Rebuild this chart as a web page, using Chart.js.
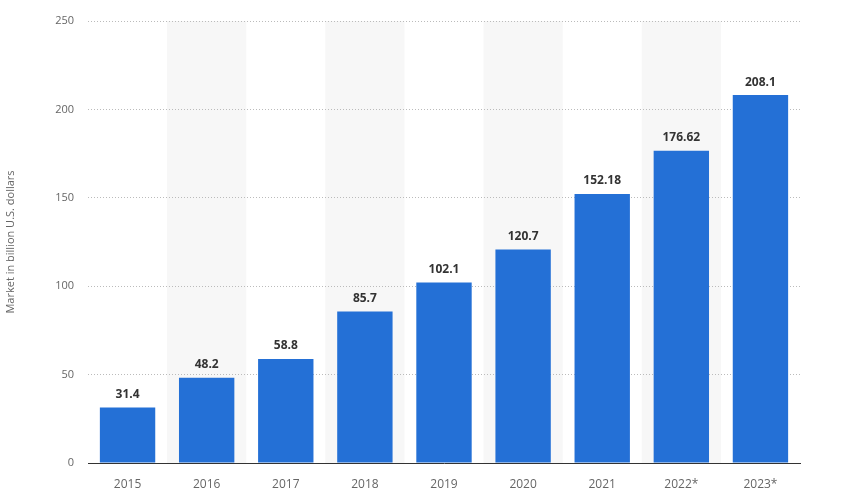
<!DOCTYPE html>
<html><head><meta charset="utf-8">
<script src="https://cdn.jsdelivr.net/npm/chart.js@4"></script>
<style>body{margin:0;background:#fff}#w{width:850px;height:502px}</style>
</head><body><div id="w"><canvas id="c"></canvas></div>
<script>
const categories = ["2015","2016","2017","2018","2019","2020","2021","2022*","2023*"];
const values = [31.4,48.2,58.8,85.7,102.1,120.7,152.18,176.62,208.1];
const valueLabels = ["31.4","48.2","58.8","85.7","102.1","120.7","152.18","176.62","208.1"];

const bands = {
  id:'bands',
  beforeDraw(chart){
    const {ctx, chartArea:a, scales:{x}} = chart;
    ctx.save(); ctx.fillStyle='#f7f7f7';
    categories.forEach((c,i)=>{
      if(i%2===1){
        const w = x.getPixelForValue(1)-x.getPixelForValue(0);
        const cx = x.getPixelForValue(i);
        ctx.fillRect(cx-w/2, a.top, w, a.bottom-a.top);
      }
    });
    ctx.restore();
  }
};
const labels = {
  id:'labels',
  afterDatasetsDraw(chart){
    const ctx=chart.ctx; const meta=chart.getDatasetMeta(0);
    ctx.save(); ctx.font='bold 12px "Open Sans", sans-serif'; ctx.fillStyle='#333';
    ctx.textAlign='center'; ctx.textBaseline='bottom';
    meta.data.forEach((b,i)=>ctx.fillText(valueLabels[i], b.x, b.y-7));
    ctx.restore();
  }
};
new Chart(document.getElementById('c'),{
  type:'bar',
  data:{labels:categories,datasets:[{data:values,backgroundColor:'#2470d6',barPercentage:0.7,categoryPercentage:1}]},
  options:{
    responsive:true,maintainAspectRatio:false,animation:false,
    layout:{padding:{top:21,right:50,left:0,bottom:0}},
    plugins:{legend:{display:false},tooltip:{enabled:false}},
    scales:{
      x:{grid:{display:false},border:{color:'#333',width:1},
         ticks:{color:'#666',font:{family:'Open Sans',size:12},padding:6},
         afterFit(s){s.height=39;}},
      y:{min:0,max:250,ticks:{stepSize:50,color:'#666',font:{family:'Open Sans',size:11},padding:14},
         grid:{color:'#bbb',drawTicks:false},border:{display:false,dash:[1,2]},
         title:{display:true,text:'Market in billion U.S. dollars',color:'#666',font:{family:'Open Sans',size:11}},
         afterFit(s){s.width=88;}}
    }
  },
  plugins:[bands,labels]
});
</script></body></html>
